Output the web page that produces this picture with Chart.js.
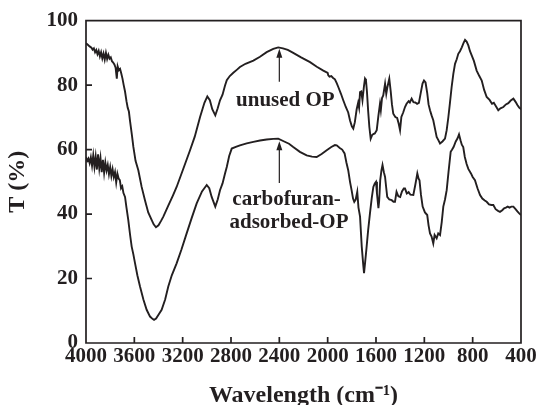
<!DOCTYPE html>
<html>
<head>
<meta charset="utf-8">
<script src="https://cdn.jsdelivr.net/npm/chart.js@4.4.0/dist/chart.umd.min.js"></script>
<style>
  body { margin: 0; background: #fff; }
  canvas { display: block; }
</style>
</head>
<body>
<canvas id="ir-chart" width="538" height="405"></canvas>
<script>
// FTIR spectra, wavenumber (cm-1) against transmittance (%)
const unusedWn = [4000, 3985, 3970, 3955, 3945, 3935, 3925, 3915, 3905, 3895, 3885, 3875, 3865, 3855, 3845, 3835, 3825, 3815, 3805, 3795,
  3785, 3775, 3765, 3755, 3745, 3738, 3728, 3718, 3708, 3698, 3688, 3677, 3665, 3655, 3645, 3636, 3620, 3608, 3590, 3567,
  3540, 3512, 3485, 3456, 3440, 3421, 3400, 3380, 3360, 3320, 3280, 3250, 3200, 3139, 3100, 3056, 3020, 2996, 2975, 2955,
  2930, 2910, 2891, 2870, 2850, 2835, 2810, 2781, 2750, 2726, 2680, 2615, 2560, 2505, 2450, 2409, 2370, 2330, 2285, 2220,
  2146, 2090, 2036, 2000, 1995, 1985, 1970, 1955, 1940, 1925, 1912, 1890, 1871, 1850, 1830, 1815, 1800, 1788, 1775, 1760,
  1748, 1740, 1732, 1722, 1712, 1700, 1691, 1683, 1675, 1665, 1655, 1644, 1632, 1622, 1610, 1594, 1580, 1567, 1560, 1550,
  1540, 1525, 1515, 1505, 1490, 1478, 1468, 1457, 1440, 1425, 1412, 1401, 1390, 1375, 1360, 1347, 1330, 1320, 1305, 1290,
  1275, 1260, 1245, 1230, 1215, 1203, 1190, 1176, 1165, 1153, 1140, 1126, 1112, 1098, 1085, 1070, 1050, 1029, 1015, 1001,
  988, 974, 960, 946, 932, 919, 905, 890, 876, 863, 850, 836, 822, 808, 790, 767, 745, 725, 705, 684,
  660, 640, 625, 610, 588, 570, 546, 525, 505, 485, 463, 445, 430, 415, 405, 400];
const unusedT = [93.0, 92.5, 92.0, 91.6, 91.0, 91.4, 90.2, 90.9, 89.6, 90.6, 88.9, 90.2, 88.3, 89.8, 87.9, 90.0, 88.1, 89.4, 88.2, 88.6,
  87.4, 87.0, 86.4, 85.4, 82.0, 85.8, 84.6, 85.0, 83.6, 82.0, 80.0, 78.0, 75.0, 73.0, 71.8, 69.0, 64.5, 60.8, 56.5, 53.6,
  48.5, 44.3, 40.5, 38.1, 36.8, 35.9, 36.5, 37.8, 39.2, 42.5, 45.8, 48.4, 53.5, 59.8, 64.0, 70.1, 74.5, 76.5, 75.3, 72.5,
  70.6, 72.8, 75.3, 77.0, 79.8, 81.5, 82.8, 83.8, 84.8, 85.6, 86.6, 87.6, 88.8, 90.2, 91.2, 91.7, 91.4, 90.9, 90.0, 88.6,
  87.1, 85.7, 84.5, 83.8, 83.0, 82.6, 82.8, 82.2, 81.8, 80.6, 79.4, 77.3, 75.3, 73.2, 71.5, 69.0, 67.2, 66.5, 68.5, 72.5,
  74.5, 73.0, 77.8, 78.0, 75.3, 79.5, 82.0, 81.5, 78.0, 72.0, 67.0, 63.4, 64.5, 64.8, 65.0, 66.0, 70.5, 74.2, 72.2, 76.0,
  76.8, 80.4, 77.3, 79.5, 82.0, 78.0, 74.0, 71.1, 70.1, 69.8, 68.0, 66.0, 70.1, 71.5, 73.2, 74.2, 75.0, 74.6, 75.8, 74.7,
  74.6, 74.2, 74.5, 77.5, 80.5, 81.4, 80.8, 77.5, 74.0, 72.2, 70.6, 69.1, 66.5, 63.9, 63.0, 61.9, 62.5, 63.4, 66.0, 70.1,
  74.5, 79.4, 83.5, 86.6, 88.0, 89.7, 90.5, 91.7, 93.0, 94.0, 93.5, 92.3, 90.5, 89.2, 87.5, 84.5, 82.8, 81.4, 78.5, 76.3,
  75.4, 74.2, 74.5, 73.6, 72.2, 72.8, 73.2, 74.0, 74.4, 75.2, 75.8, 74.8, 73.8, 73.0, 72.7, 73.0];

const adsorbedWn = [4000, 3990, 3980, 3970, 3960, 3950, 3940, 3930, 3920, 3910, 3900, 3890, 3880, 3870, 3860, 3850, 3840, 3830, 3820, 3810,
  3800, 3790, 3780, 3770, 3760, 3750, 3740, 3730, 3720, 3710, 3700, 3690, 3677, 3665, 3650, 3635, 3622, 3608, 3594, 3575,
  3553, 3525, 3498, 3470, 3450, 3437, 3420, 3400, 3374, 3345, 3319, 3290, 3250, 3210, 3167, 3125, 3084, 3040, 3001, 2980,
  2960, 2930, 2910, 2891, 2870, 2850, 2835, 2815, 2794, 2760, 2726, 2670, 2615, 2560, 2505, 2450, 2409, 2360, 2320, 2285,
  2230, 2174, 2130, 2091, 2050, 2008, 1970, 1940, 1925, 1900, 1880, 1860, 1845, 1830, 1815, 1802, 1790, 1780, 1768, 1755,
  1745, 1732, 1718, 1705, 1699, 1690, 1680, 1665, 1650, 1635, 1622, 1610, 1600, 1592, 1580, 1574, 1565, 1555, 1546, 1535,
  1525, 1515, 1507, 1490, 1470, 1455, 1443, 1430, 1415, 1400, 1385, 1370, 1360, 1345, 1330, 1315, 1291, 1275, 1258, 1248,
  1240, 1228, 1214, 1195, 1176, 1165, 1153, 1140, 1126, 1115, 1098, 1085, 1070, 1056, 1043, 1029, 1015, 1000, 982, 970,
  958, 940, 925, 913, 900, 890, 878, 865, 850, 836, 814, 800, 781, 760, 739, 720, 700, 684, 665, 645,
  629, 610, 590, 574, 555, 540, 525, 510, 495, 480, 463, 445, 430, 415, 400];
const adsorbedT = [57.7, 56.5, 57.2, 55.8, 57.6, 55.0, 58.2, 54.6, 57.8, 53.8, 58.5, 54.2, 57.3, 53.0, 56.8, 52.8, 56.0, 53.5, 55.2, 52.4,
  54.6, 51.8, 53.9, 51.5, 53.0, 49.8, 52.5, 51.0, 50.5, 48.0, 48.6, 46.5, 45.3, 42.0, 38.1, 33.5, 29.9, 27.5, 24.7, 21.0,
  17.5, 13.5, 10.3, 8.2, 7.5, 7.2, 7.6, 8.8, 10.3, 13.5, 17.5, 21.0, 24.7, 29.0, 34.0, 38.8, 43.3, 47.0, 49.0, 48.0,
  45.3, 42.3, 44.5, 47.4, 49.5, 52.5, 54.6, 58.0, 60.3, 60.8, 61.3, 61.9, 62.4, 62.8, 63.1, 63.3, 63.4, 62.5, 61.8, 60.8,
  59.3, 58.2, 57.8, 57.7, 58.6, 59.8, 60.8, 61.4, 61.3, 60.5, 60.0, 58.8, 56.0, 53.6, 50.0, 47.4, 44.8, 43.8, 44.5, 46.9,
  42.0, 39.2, 29.9, 24.0, 21.7, 25.0, 28.9, 35.0, 40.2, 45.0, 48.4, 49.5, 50.0, 46.4, 41.8, 44.0, 50.5, 53.5, 55.2, 53.0,
  51.5, 48.0, 45.3, 44.5, 44.3, 43.8, 43.8, 46.9, 45.5, 45.3, 47.0, 47.9, 47.9, 46.4, 46.8, 46.0, 45.9, 49.0, 52.6, 51.0,
  50.5, 46.0, 42.3, 40.5, 39.7, 36.5, 34.0, 33.0, 30.9, 33.5, 32.5, 34.0, 33.5, 37.5, 42.3, 44.5, 47.4, 53.0, 59.3, 60.0,
  60.8, 62.5, 63.5, 64.7, 62.8, 61.5, 60.8, 57.7, 55.5, 54.0, 52.6, 51.5, 50.5, 48.0, 45.9, 44.8, 44.2, 43.8, 43.0, 42.8,
  42.8, 41.5, 41.0, 40.7, 41.2, 41.8, 42.0, 42.3, 42.0, 42.3, 42.3, 41.5, 40.8, 40.2, 39.7];

const xTicks = [4000, 3600, 3200, 2800, 2400, 2000, 1600, 1200, 800, 400];
const yTicks = [0, 20, 40, 60, 80, 100];

const ink = '#231f20';
const serif = '"Liberation Serif", "Times New Roman", serif';

function toPoints(xs, ys) {
  return xs.map((x, i) => ({ x: x, y: ys[i] }));
}

// box frame, inward tick marks, arrows and curve labels
const frameAndNotes = {
  id: 'frameAndNotes',
  afterDraw(chart) {
    const ctx = chart.ctx;
    const x = chart.scales.x;
    const y = chart.scales.y;
    const left = x.left, right = x.right, top = y.top, bottom = y.bottom;

    ctx.save();
    ctx.strokeStyle = ink;
    ctx.fillStyle = ink;
    ctx.lineWidth = 1.7;
    ctx.beginPath();
    ctx.moveTo(left, top);
    ctx.lineTo(right, top);
    ctx.lineTo(right, bottom);
    ctx.lineTo(left, bottom);
    ctx.closePath();

    xTicks.forEach(v => {
      const px = x.getPixelForValue(v);
      ctx.moveTo(px, bottom);
      ctx.lineTo(px, bottom - 6);
    });
    yTicks.forEach(v => {
      const py = y.getPixelForValue(v);
      ctx.moveTo(left, py);
      ctx.lineTo(left + 6, py);
    });
    ctx.stroke();

    const arrow = (wn, fromT, toT) => {
      const px = x.getPixelForValue(wn);
      const y0 = y.getPixelForValue(fromT);
      const y1 = y.getPixelForValue(toT);
      ctx.lineWidth = 1.2;
      ctx.beginPath();
      ctx.moveTo(px, y0);
      ctx.lineTo(px, y1 + 6);
      ctx.stroke();
      ctx.beginPath();
      ctx.moveTo(px, y1);
      ctx.lineTo(px - 3, y1 + 9);
      ctx.lineTo(px + 3, y1 + 9);
      ctx.closePath();
      ctx.fill();
    };
    arrow(2400, 81, 91.3);
    arrow(2400, 49.6, 62.6);

    ctx.font = 'bold 21px ' + serif;
    ctx.textAlign = 'center';
    ctx.textBaseline = 'middle';
    ctx.fillText('unused OP', x.getPixelForValue(2350), y.getPixelForValue(75.3));
    ctx.fillText('carbofuran-', x.getPixelForValue(2340), y.getPixelForValue(44.6));
    ctx.fillText('adsorbed-OP', x.getPixelForValue(2320), y.getPixelForValue(37.5));
    ctx.restore();
  }
};

new Chart(document.getElementById('ir-chart').getContext('2d'), {
  type: 'scatter',
  data: {
    datasets: [
      {
        label: 'unused OP',
        data: toPoints(unusedWn, unusedT),
        showLine: true,
        borderColor: ink,
        borderWidth: 1.9,
        pointRadius: 0,
        tension: 0
      },
      {
        label: 'carbofuran-adsorbed-OP',
        data: toPoints(adsorbedWn, adsorbedT),
        showLine: true,
        borderColor: ink,
        borderWidth: 1.9,
        pointRadius: 0,
        tension: 0
      }
    ]
  },
  options: {
    responsive: false,
    animation: false,
    layout: { padding: { top: 20, right: 17, left: 0, bottom: 0 } },
    plugins: {
      legend: { display: false },
      tooltip: { enabled: false }
    },
    scales: {
      x: {
        type: 'linear',
        reverse: true,
        min: 400,
        max: 4000,
        afterBuildTicks(scale) { scale.ticks = xTicks.map(v => ({ value: v })); },
        afterFit(scale) { scale.height = 62; },
        grid: { display: false, drawTicks: false },
        border: { display: false },
        ticks: {
          color: ink,
          padding: 1,
          maxRotation: 0,
          autoSkip: false,
          callback: v => String(v),
          font: { family: serif, size: 21, weight: 'bold' }
        },
        title: {
          display: true,
          text: 'Wavelength (cm\u207B\u00B9)',
          color: ink,
          padding: { top: 0, bottom: 0 },
          font: { family: serif, size: 24, weight: 'bold', lineHeight: 0.8 }
        }
      },
      y: {
        min: 0,
        max: 100,
        afterBuildTicks(scale) { scale.ticks = yTicks.map(v => ({ value: v })); },
        afterFit(scale) { scale.width = 86; },
        grid: { display: false, drawTicks: false },
        border: { display: false },
        ticks: {
          color: ink,
          padding: 8,
          callback: v => String(v),
          font: { family: serif, size: 21, weight: 'bold' }
        },
        title: {
          display: true,
          text: 'T (%)',
          color: ink,
          padding: { top: 6, bottom: 0 },
          font: { family: serif, size: 24, weight: 'bold', lineHeight: 1 }
        }
      }
    }
  },
  plugins: [frameAndNotes]
});
</script>
</body>
</html>
